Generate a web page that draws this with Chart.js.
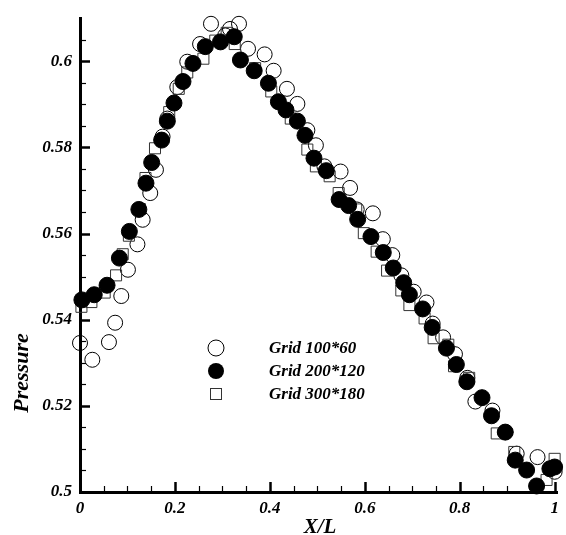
<!DOCTYPE html>
<html>
<head>
<meta charset="utf-8">
<script src="https://cdn.jsdelivr.net/npm/chart.js@4/dist/chart.umd.min.js"></script>
<style>
  html, body { margin: 0; padding: 0; background: #fff; }
  #wrap { width: 566px; height: 535px; position: relative; }
</style>
</head>
<body>
<div id="wrap"><canvas id="chart"></canvas></div>
<script>
// ===== Data =====
const seriesNames = ["Grid 100*60", "Grid 200*120", "Grid 300*180"];

const grid1X = [0.000, 0.026, 0.061, 0.074, 0.087, 0.101, 0.121, 0.132, 0.148, 0.160,
                0.174, 0.184, 0.205, 0.226, 0.253, 0.276, 0.306, 0.316, 0.335, 0.354,
                0.389, 0.408, 0.436, 0.458, 0.479, 0.497, 0.515, 0.549, 0.569, 0.583,
                0.617, 0.638, 0.658, 0.677, 0.703, 0.730, 0.743, 0.765, 0.790, 0.816,
                0.833, 0.869, 0.896, 0.920, 0.964, 1.000];
const grid1Y = [0.5346, 0.5307, 0.5348, 0.5393, 0.5455, 0.5516, 0.5575, 0.5632, 0.5694, 0.5748,
                0.5825, 0.5867, 0.5940, 0.5999, 0.6040, 0.6087, 0.6060, 0.6075, 0.6087, 0.6029,
                0.6016, 0.5978, 0.5936, 0.5901, 0.5840, 0.5805, 0.5756, 0.5744, 0.5706, 0.5656,
                0.5647, 0.5587, 0.5550, 0.5503, 0.5465, 0.5440, 0.5391, 0.5359, 0.5320, 0.5265,
                0.5210, 0.5189, 0.5139, 0.5089, 0.5081, 0.5047];

const grid2X = [0.004, 0.030, 0.057, 0.083, 0.104, 0.124, 0.139, 0.151, 0.172, 0.184,
                0.198, 0.217, 0.238, 0.264, 0.296, 0.325, 0.338, 0.367, 0.397, 0.418,
                0.434, 0.458, 0.474, 0.493, 0.519, 0.546, 0.566, 0.585, 0.613, 0.639,
                0.660, 0.682, 0.694, 0.722, 0.742, 0.772, 0.793, 0.815, 0.847, 0.867,
                0.896, 0.917, 0.941, 0.962, 0.990, 1.000];
const grid2Y = [0.5446, 0.5458, 0.5480, 0.5543, 0.5605, 0.5656, 0.5717, 0.5765, 0.5817, 0.5861,
                0.5903, 0.5953, 0.5995, 0.6034, 0.6045, 0.6057, 0.6003, 0.5978, 0.5949, 0.5906,
                0.5887, 0.5861, 0.5828, 0.5775, 0.5746, 0.5679, 0.5665, 0.5633, 0.5593, 0.5556,
                0.5520, 0.5486, 0.5458, 0.5425, 0.5382, 0.5334, 0.5296, 0.5256, 0.5219, 0.5177,
                0.5139, 0.5074, 0.5051, 0.5014, 0.5054, 0.5058];

const grid3X = [0.003, 0.024, 0.052, 0.076, 0.090, 0.103, 0.126, 0.138, 0.158, 0.188,
                0.208, 0.226, 0.260, 0.285, 0.309, 0.326, 0.369, 0.403, 0.444, 0.479,
                0.497, 0.526, 0.545, 0.582, 0.598, 0.625, 0.647, 0.677, 0.694, 0.726,
                0.745, 0.776, 0.788, 0.820, 0.878, 0.915, 0.983, 1.000];
const grid3Y = [0.5430, 0.5441, 0.5463, 0.5503, 0.5552, 0.5595, 0.5657, 0.5729, 0.5798, 0.5882,
                0.5936, 0.5974, 0.6006, 0.6048, 0.6066, 0.6040, 0.5984, 0.5930, 0.5867, 0.5795,
                0.5756, 0.5733, 0.5694, 0.5656, 0.5601, 0.5558, 0.5514, 0.5468, 0.5434, 0.5403,
                0.5357, 0.5342, 0.5292, 0.5265, 0.5136, 0.5093, 0.5028, 0.5077];

const xTicks = [0, 0.2, 0.4, 0.6, 0.8, 1];
const yTicks = [0.5, 0.52, 0.54, 0.56, 0.58, 0.6];

// ===== Helpers =====
const FONT = "'Liberation Serif', 'Times New Roman', serif";
const pts = (xs, ys) => xs.map((x, i) => ({ x, y: ys[i] }));
const fmt = (v) => String(+v.toFixed(3));

// inward tick marks (major + minor) like the original plot
const innerTicks = {
  id: "innerTicks",
  afterDraw(chart) {
    const { ctx, chartArea: a, scales: { x, y } } = chart;
    ctx.save();
    ctx.strokeStyle = "#000";
    const drawX = (v, len, w) => {
      const px = Math.round(x.getPixelForValue(v)) + 0.5;
      ctx.lineWidth = w;
      ctx.beginPath(); ctx.moveTo(px, a.bottom); ctx.lineTo(px, a.bottom - len); ctx.stroke();
    };
    const drawY = (v, len, w) => {
      const py = Math.round(y.getPixelForValue(v)) + 0.5;
      ctx.lineWidth = w;
      ctx.beginPath(); ctx.moveTo(a.left, py); ctx.lineTo(a.left + len, py); ctx.stroke();
    };
    for (let i = 0; i <= 20; i++) {
      const v = i * 0.05;
      if (i % 4 === 0) drawX(v, 10, 2.5); else drawX(v, 6, 1.2);
    }
    for (let i = 0; i <= 21; i++) {
      const v = 0.5 + i * 0.005;
      if (i % 4 === 0) drawY(v, 10, 2.5); else drawY(v, 6, 1.2);
    }
    ctx.restore();
  }
};

// axis titles + legend drawn in place
const annotations = {
  id: "annotations",
  afterDraw(chart) {
    const { ctx } = chart;
    ctx.save();
    ctx.fillStyle = "#000";
    ctx.textBaseline = "middle";
    ctx.textAlign = "center";

    ctx.font = "italic bold 21px " + FONT;
    ctx.fillText("X/L", 320, 528);

    ctx.save();
    ctx.translate(22, 373);
    ctx.rotate(-Math.PI / 2);
    ctx.font = "italic bold 22px " + FONT;
    ctx.fillText("Pressure", 0, 0);
    ctx.restore();

    // legend
    const lx = 216, rows = [348, 371, 394];
    ctx.strokeStyle = "#000";
    ctx.lineWidth = 1;
    ctx.beginPath(); ctx.arc(lx, rows[0], 8, 0, Math.PI * 2); ctx.stroke();
    ctx.beginPath(); ctx.arc(lx, rows[1], 8, 0, Math.PI * 2); ctx.fill();
    ctx.strokeStyle = "#333";
    ctx.strokeRect(lx - 5.5, rows[2] - 5.5, 11, 11);

    ctx.textAlign = "left";
    ctx.font = "italic bold 17px " + FONT;
    seriesNames.forEach((n, i) => ctx.fillText(n, 269, rows[i] + 1));
    ctx.restore();
  }
};

// ===== Chart =====
const ctx = document.getElementById("chart").getContext("2d");
new Chart(ctx, {
  type: "scatter",
  data: {
    datasets: [
      {
        label: seriesNames[1],
        data: pts(grid2X, grid2Y),
        pointStyle: "circle",
        pointRadius: 8,
        backgroundColor: "#000",
        borderColor: "#000",
        borderWidth: 1,
        clip: false,
        order: 0
      },
      {
        label: seriesNames[2],
        data: pts(grid3X, grid3Y),
        pointStyle: "rect",
        pointRadius: 7.8,
        backgroundColor: "rgba(0,0,0,0)",
        borderColor: "#333",
        borderWidth: 1,
        clip: false,
        order: 1
      },
      {
        label: seriesNames[0],
        data: pts(grid1X, grid1Y),
        pointStyle: "circle",
        pointRadius: 7.5,
        backgroundColor: "rgba(0,0,0,0)",
        borderColor: "#000",
        borderWidth: 1,
        clip: false,
        order: 2
      }
    ]
  },
  options: {
    responsive: true,
    maintainAspectRatio: false,
    animation: false,
    layout: { padding: { top: 13, right: 4, left: 0, bottom: 0 } },
    plugins: {
      legend: { display: false },
      tooltip: { enabled: false }
    },
    scales: {
      x: {
        type: "linear",
        min: 0,
        max: 1.005,
        afterBuildTicks: (s) => { s.ticks = xTicks.map(v => ({ value: v })); },
        afterFit: (s) => { s.height = 43; },
        grid: { drawOnChartArea: false, drawTicks: false },
        border: { color: "#000", width: 3 },
        ticks: {
          padding: 6,
          color: "#000",
          maxRotation: 0,
          autoSkip: false,
          font: { family: FONT, size: 17, style: "italic", weight: "bold" },
          callback: (v) => fmt(v)
        }
      },
      y: {
        type: "linear",
        min: 0.5,
        max: 0.61,
        afterBuildTicks: (s) => { s.ticks = yTicks.map(v => ({ value: v })); },
        afterFit: (s) => { s.width = 80; },
        grid: { drawOnChartArea: false, drawTicks: false },
        border: { color: "#000", width: 3 },
        ticks: {
          padding: 8,
          color: "#000",
          autoSkip: false,
          font: { family: FONT, size: 17, style: "italic", weight: "bold" },
          callback: (v) => fmt(v)
        }
      }
    }
  },
  plugins: [innerTicks, annotations]
});
</script>
</body>
</html>
